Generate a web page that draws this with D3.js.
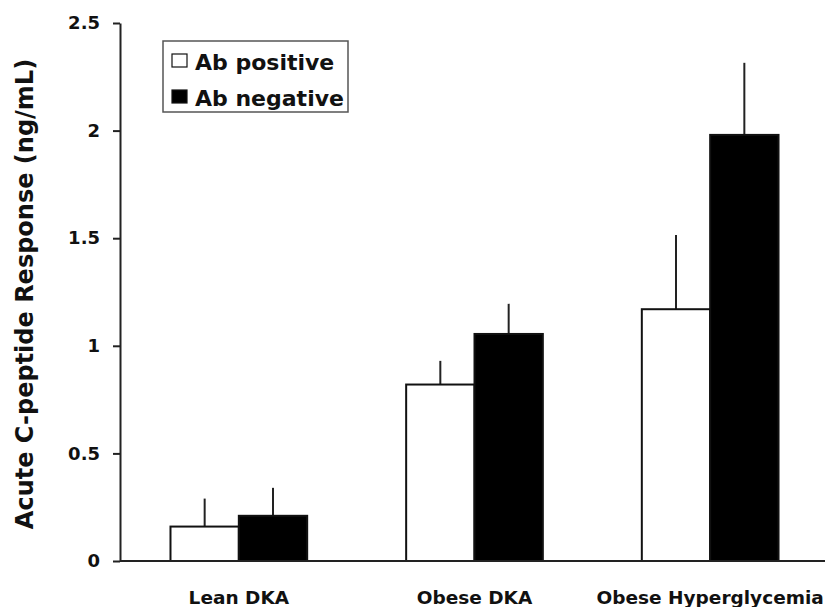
<!DOCTYPE html>
<html>
<head>
<meta charset="utf-8">
<script src="https://cdn.jsdelivr.net/npm/d3@7"></script>
<style>
  body { margin: 0; background: #fff; }
  svg text { font-family: "DejaVu Sans", Arial, sans-serif; font-weight: bold; fill: #111; }
</style>
</head>
<body>
<div id="chart"></div>
<script>
const categories = ["Lean DKA", "Obese DKA", "Obese Hyperglycemia"];
const seriesNames = ["Ab positive", "Ab negative"];
const abPositive = [0.16, 0.82, 1.17];
const abPositiveErr = [0.13, 0.11, 0.345];
const abNegative = [0.21, 1.055, 1.98];
const abNegativeErr = [0.13, 0.14, 0.335];
const yTicks = [0, 0.5, 1, 1.5, 2, 2.5];

const widthValue = 825;
const heightValue = 607;

const svg = d3.select("#chart")
  .append("svg")
  .attr("width", widthValue)
  .attr("height", heightValue);

// scales
const xScale = d3.scaleBand()
  .domain(categories)
  .range([121, 828])
  .paddingInner(0.42)
  .paddingOuter(0.21);

const subScale = d3.scaleBand()
  .domain(seriesNames)
  .range([0, xScale.bandwidth()]);

const yScale = d3.scaleLinear()
  .domain([0, 2.5])
  .range([561, 23]);

const fillColor = d3.scaleOrdinal()
  .domain(seriesNames)
  .range(["#fff", "#000"]);

// flatten rows for drawing
const rows = [];
categories.forEach(function(c, i) {
  rows.push({ cat: c, series: "Ab positive", value: abPositive[i], err: abPositiveErr[i] });
  rows.push({ cat: c, series: "Ab negative", value: abNegative[i], err: abNegativeErr[i] });
});

// error bars (drawn first so the bar outline sits over the base)
svg.append("g")
  .selectAll("line")
  .data(rows)
  .enter()
  .append("line")
    .attr("x1", function(d) { return xScale(d.cat) + subScale(d.series) + subScale.bandwidth() / 2; })
    .attr("x2", function(d) { return xScale(d.cat) + subScale(d.series) + subScale.bandwidth() / 2; })
    .attr("y1", function(d) { return yScale(d.value); })
    .attr("y2", function(d) { return yScale(d.value + d.err); })
    .attr("stroke", "#222")
    .attr("stroke-width", 2);

// bars
svg.append("g")
  .selectAll("rect")
  .data(rows)
  .enter()
  .append("rect")
    .attr("x", function(d) { return xScale(d.cat) + subScale(d.series); })
    .attr("y", function(d) { return yScale(d.value); })
    .attr("width", subScale.bandwidth())
    .attr("height", function(d) { return yScale(0) - yScale(d.value); })
    .attr("fill", function(d) { return fillColor(d.series); })
    .attr("stroke", "#111")
    .attr("stroke-width", 2);

// y axis
const yAxis = svg.append("g")
  .attr("transform", "translate(120,0)")
  .call(d3.axisLeft(yScale)
    .tickValues(yTicks)
    .tickFormat(d3.format("~g"))
    .tickSize(7)
    .tickPadding(13)
    .tickSizeOuter(0));
yAxis.select(".domain").attr("stroke", "#222").attr("stroke-width", 2);
yAxis.selectAll(".tick line").attr("stroke", "#222").attr("stroke-width", 2);
yAxis.selectAll(".tick text")
  .attr("font-size", 18)
  .style("font-family", "'DejaVu Sans', Arial, sans-serif")
  .style("font-weight", "bold")
  .attr("fill", "#111");

// x axis (baseline, no ticks)
const xAxis = svg.append("g")
  .attr("transform", "translate(0," + yScale(0) + ")")
  .call(d3.axisBottom(xScale).tickSize(0).tickPadding(30).tickSizeOuter(0));
xAxis.select(".domain").attr("stroke", "#222").attr("stroke-width", 2)
  .attr("d", "M120,0H825");
xAxis.selectAll(".tick text")
  .attr("font-size", 18.5)
  .style("font-family", "'DejaVu Sans', Arial, sans-serif")
  .style("font-weight", "bold")
  .attr("fill", "#111");

// y axis title
svg.append("text")
  .attr("transform", "translate(33,294) rotate(-90)")
  .attr("text-anchor", "middle")
  .attr("font-size", 24)
  .text("Acute C-peptide Response (ng/mL)");

// legend
const legend = svg.append("g");
legend.append("rect")
  .attr("x", 163).attr("y", 41)
  .attr("width", 185).attr("height", 71)
  .attr("fill", "#fff")
  .attr("stroke", "#555")
  .attr("stroke-width", 1.5);

const legendItems = legend.selectAll("g.item")
  .data(seriesNames)
  .enter()
  .append("g")
    .attr("class", "item")
    .attr("transform", function(d, i) { return "translate(172," + (54 + i * 36) + ")"; });

legendItems.append("rect")
  .attr("width", 15).attr("height", 13)
  .attr("fill", function(d) { return fillColor(d); })
  .attr("stroke", "#111")
  .attr("stroke-width", 1.2);

legendItems.append("text")
  .attr("x", 23)
  .attr("y", 16)
  .attr("font-size", 22)
  .text(function(d) { return d; });
</script>
</body>
</html>
